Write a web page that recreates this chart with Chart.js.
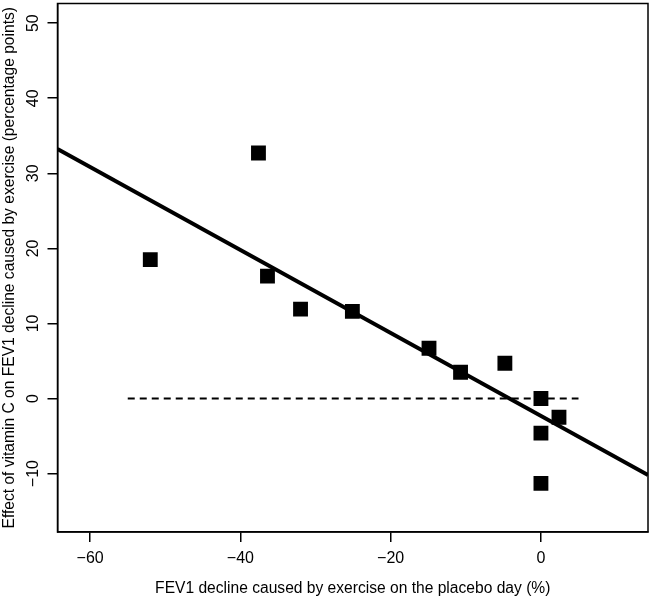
<!DOCTYPE html>
<html>
<head>
<meta charset="utf-8">
<script src="https://cdn.jsdelivr.net/npm/chart.js@4/dist/chart.umd.min.js"></script>
<style>
  html, body { margin: 0; padding: 0; background: #fff; overflow: hidden; }
  #wrap { width: 651px; height: 598px; position: relative; }
  #c { display: block; }
</style>
</head>
<body>
<div id="wrap"><canvas id="c"></canvas></div>
<script>
// Data
const placeboDecline = [-52.0, -37.6, -36.4, -32.0, -25.1, -14.9, -10.7, -4.8, 0.0, 2.4, 0.0, 0.0];
const vitaminCEffect = [18.5, 32.7, 16.3, 11.9, 11.6, 6.7, 3.5, 4.7, 0.0, -2.5, -4.6, -11.3];
const fitLineX = [-64.35, 14.25];
const fitLineY = [33.24, -10.2];
const zeroLineX = [-55, 5];
const zeroLineY = [0, 0];
const xTicks = [-60, -40, -20, 0];
const yTicks = [-10, 0, 10, 20, 30, 40, 50];
const xTitle = 'FEV1 decline caused by exercise on the placebo day (%)';
const yTitle = 'Effect of vitamin C on FEV1 decline caused by exercise (percentage points)';

const FONT = '"Liberation Sans", Arial, sans-serif';
const FS = 15.6;

const framePlugin = {
  id: 'frame',
  afterDatasetsDraw(chart) {
    const a = chart.chartArea, ctx = chart.ctx;
    ctx.save();
    ctx.strokeStyle = '#000';
    ctx.lineWidth = 1.5;
    ctx.strokeRect(a.left, a.top, a.right - a.left, a.bottom - a.top);
    ctx.restore();
  }
};

function noPad(s) { s.paddingTop = 0; s.paddingBottom = 0; s.paddingLeft = 0; s.paddingRight = 0; }

const pts = placeboDecline.map((x, i) => ({ x, y: vitaminCEffect[i] }));
const fit = fitLineX.map((x, i) => ({ x, y: fitLineY[i] }));
const zero = zeroLineX.map((x, i) => ({ x, y: zeroLineY[i] }));
const minusFmt = v => (v < 0 ? '\u2212' + Math.abs(v) : String(v));

new Chart(document.getElementById('c'), {
  type: 'scatter',
  data: {
    datasets: [
      { data: zero, showLine: true, pointRadius: 0, borderColor: '#000', borderWidth: 2, borderDash: [7, 5], order: 3 },
      { data: fit, showLine: true, pointRadius: 0, borderColor: '#000', borderWidth: 4, order: 2 },
      { data: pts, showLine: false, pointStyle: 'rect', pointRadius: 10.5, pointHoverRadius: 10.5,
        backgroundColor: '#000', borderColor: '#000', borderWidth: 0, order: 1 }
    ]
  },
  options: {
    responsive: true,
    maintainAspectRatio: false,
    animation: false,
    events: [],
    layout: { autoPadding: false, padding: { top: 3.5, right: 3, left: 0, bottom: 0 } },
    plugins: { legend: { display: false }, tooltip: { enabled: false } },
    scales: {
      x: {
        type: 'linear', min: -64.35, max: 14.25,
        afterBuildTicks: s => { s.ticks = xTicks.map(v => ({ value: v })); },
        afterFit: s => { s.height = 66; noPad(s); },
        grid: { display: true, drawOnChartArea: false, drawTicks: true, tickLength: 10, color: '#000', lineWidth: 1.5 },
        border: { display: true, color: '#000', width: 1.5 },
        ticks: { color: '#000', font: { family: FONT, size: 16 }, padding: 7, maxRotation: 0, callback: minusFmt },
        title: { display: true, text: xTitle, color: '#000', font: { family: FONT, size: FS }, padding: { top: 5, bottom: 0 } }
      },
      y: {
        type: 'linear', min: -17.78, max: 52.62,
        afterBuildTicks: s => { s.ticks = yTicks.map(v => ({ value: v })); },
        afterFit: s => { s.width = 57.5; noPad(s); },
        grid: { display: true, drawOnChartArea: false, drawTicks: true, tickLength: 10, color: '#000', lineWidth: 1.5 },
        border: { display: true, color: '#000', width: 1.5 },
        ticks: { color: '#000', font: { family: FONT, size: 16 }, padding: 0, minRotation: 90, maxRotation: 90,
                 crossAlign: 'center', callback: minusFmt },
        title: { display: true, text: yTitle, color: '#000', font: { family: FONT, size: FS }, padding: { top: 0, bottom: 0 } }
      }
    }
  },
  plugins: [framePlugin]
});
</script>
</body>
</html>
